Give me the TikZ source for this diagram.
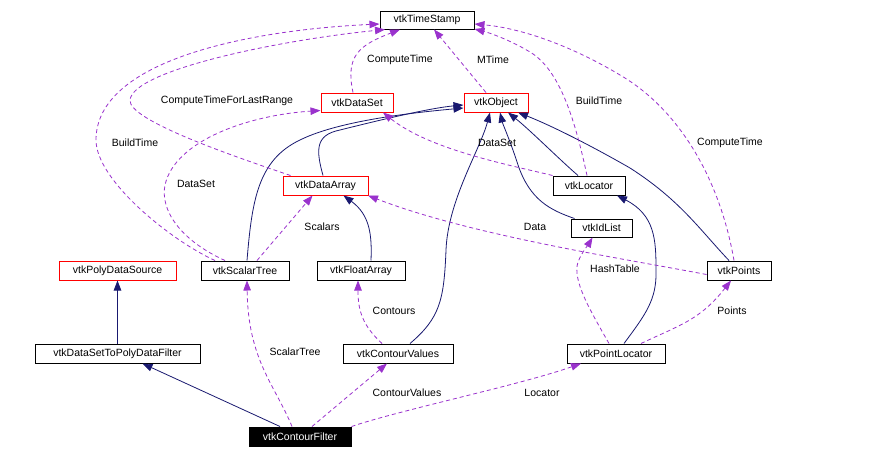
\documentclass[tikz,border=0pt]{standalone}
\usepackage{fontspec}
\setmainfont{Liberation Sans}
\usetikzlibrary{arrows.meta}
\definecolor{inhcol}{HTML}{191970}
\definecolor{usecol}{HTML}{9A32CD}
\begin{document}
\begin{tikzpicture}[x=1pt,y=-1pt,
  cls/.style={draw=black, line width=1pt, minimum height=19pt, inner sep=0pt, font=\fontsize{10.5}{12}\selectfont, fill=white},
  redbox/.style={cls, draw=red},
  lbl/.style={font=\fontsize{10.5}{12}\selectfont, inner sep=0pt},
  inhe/.style={draw=inhcol, line width=0.8pt, -{Triangle[length=10pt,width=7.5pt]}},
  usee/.style={draw=usecol, line width=0.8pt, dash pattern=on 4pt off 3pt, -{Triangle[length=10pt,width=7.5pt]}}
]
\useasboundingbox (0,0) rectangle (874,458);
\fill[white] (0,0) rectangle (874,458);

\node[cls, minimum width=94pt, minimum height=18pt] (ts) at (427,20) {vtkTimeStamp};
\node[redbox, minimum width=72pt] (ds) at (357,102.5) {vtkDataSet};
\node[redbox, minimum width=64pt] (obj) at (496,102.5) {vtkObject};
\node[redbox, minimum width=85pt] (da) at (325.5,185.5) {vtkDataArray};
\node[cls, minimum width=72pt] (loc) at (589,185.5) {vtkLocator};
\node[cls, minimum width=61pt, minimum height=18pt] (idl) at (601.5,228) {vtkIdList};
\node[redbox, minimum width=117pt] (pds) at (117.5,270.5) {vtkPolyDataSource};
\node[cls, minimum width=88pt] (st) at (245,270.5) {vtkScalarTree};
\node[cls, minimum width=88pt] (fa) at (361,270.5) {vtkFloatArray};
\node[cls, minimum width=64pt] (pts) at (739,270.5) {vtkPoints};
\node[cls, minimum width=165pt] (dsf) at (117.5,353.5) {vtkDataSetToPolyDataFilter};
\node[cls, minimum width=110pt] (cv) at (398,353.5) {vtkContourValues};
\node[cls, minimum width=98pt] (pl) at (616,353.5) {vtkPointLocator};
\node[cls, fill=black, text=white, minimum width=102pt] (cf) at (300,436.5) {vtkContourFilter};

% inheritance
\draw[inhe] (dsf.north) -- (pds.south);
\draw[inhe] ([xshift=-20pt]cf.north) -- ([xshift=25pt]dsf.south);
\draw[inhe] ([xshift=2pt]st.north) .. controls (252,200) and (258,160) .. (300,140) .. controls (340,120) and (420,112) .. ([yshift=-5.5pt]obj.west);
\draw[inhe] ([xshift=-2.5pt]da.north) .. controls (316,150) and (315,135) .. (340,130) .. controls (380,120) and (430,108) .. ([yshift=-2.5pt]obj.west);
\draw[inhe] ([xshift=10pt]fa.north) .. controls (372,235) and (370,215) .. ([xshift=18pt]da.south);
\draw[inhe] ([xshift=12pt]cv.north) .. controls (440,318) and (444,300) .. (446,250) .. controls (448,200) and (480,150) .. ([xshift=-6pt]obj.south);
\draw[inhe] ([xshift=-27pt]idl.north) .. controls (550,210) and (530,200) .. (518,165) .. controls (510,140) and (503,125) .. ([xshift=4pt]obj.south);
\draw[inhe] ([xshift=-11pt]loc.north) .. controls (560,160) and (530,130) .. ([xshift=12pt]obj.south);
\draw[inhe] ([xshift=-10pt]pts.north) .. controls (700,230) and (680,200) .. (630,168) .. controls (590,145) and (550,125) .. ([xshift=22pt]obj.south);
\draw[inhe] ([xshift=8pt]pl.north) .. controls (645,315) and (657,300) .. (656,270) .. controls (656,240) and (655,215) .. ([xshift=28pt]loc.south);

% usage
\draw[usee] ([xshift=-4pt]ds.north) .. controls (345,55) and (360,45) .. ([xshift=-27pt]ts.south);
\draw[usee] ([xshift=-10pt]obj.north) -- ([xshift=7pt]ts.south);
\draw[usee] ([xshift=-2pt]loc.north) .. controls (575,120) and (560,70) .. (530,52) .. controls (510,40) and (490,33) .. ([yshift=-9pt]ts.east);
\draw[usee] ([xshift=-5pt]pts.north) .. controls (720,180) and (680,110) .. (620,75) .. controls (570,45) and (520,28) .. ([yshift=-4pt]ts.east);
\draw[usee] ([xshift=-35pt]da.north) .. controls (230,155) and (128,120) .. (130,100) .. controls (133,70) and (280,40) .. ([xshift=-42pt]ts.south);
\draw[usee] ([xshift=-30pt]st.north) .. controls (170,240) and (96,180) .. (96,140) .. controls (96,60) and (250,30) .. ([yshift=-4pt]ts.west);
\draw[usee] ([xshift=-20pt]st.north) .. controls (180,240) and (160,210) .. (165,185) .. controls (175,140) and (250,115) .. ([yshift=-8pt]ds.west);
\draw[usee] ([yshift=-4pt]pts.west) .. controls (620,258) and (470,235) .. ([xshift=42.5pt]da.south);
\draw[usee] (loc.north west) .. controls (510,165) and (430,150) .. ([xshift=26pt]ds.south);
\draw[usee] ([xshift=12pt]st.north) -- ([xshift=-13pt]da.south);
\draw[usee] ([xshift=-16pt]cv.north) .. controls (362,325) and (358,310) .. ([xshift=-3pt]fa.south);
\draw[usee] ([xshift=-7pt]pl.north) .. controls (590,310) and (572,280) .. (578,262) .. controls (582,252) and (588,245) .. ([xshift=-9pt]idl.south);
\draw[usee] ([xshift=25pt]pl.north) .. controls (680,325) and (700,320) .. ([xshift=-8pt]pts.south);
\draw[usee] ([xshift=-8pt]cf.north) .. controls (275,385) and (248,360) .. ([xshift=2pt]st.south);
\draw[usee] ([xshift=12pt]cf.north) -- ([xshift=-11pt]cv.south);
\draw[usee] (cf.north east) .. controls (400,410) and (520,385) .. ([xshift=-35pt]pl.south);

% labels
\node[lbl] (l1) at (400,60) {ComputeTime};
\node[lbl] (l2) at (493,60) {MTime};
\node[lbl] (l3) at (227,101) {ComputeTimeForLastRange};
\node[lbl] (l4) at (599,101) {BuildTime};
\node[lbl] (l5) at (135,143) {BuildTime};
\node[lbl] (l6) at (497,143) {DataSet};
\node[lbl] (l7) at (730,143) {ComputeTime};
\node[lbl] (l8) at (196,184) {DataSet};
\node[lbl] (l9) at (322,227) {Scalars};
\node[lbl] (l10) at (535,227) {Data};
\node[lbl] (l11) at (615,269) {HashTable};
\node[lbl] (l12) at (394,311) {Contours};
\node[lbl] (l13) at (732,311) {Points};
\node[lbl] (l14) at (295,352) {ScalarTree};
\node[lbl] (l15) at (407,393) {ContourValues};
\node[lbl] (l16) at (542,393) {Locator};
\end{tikzpicture}
\end{document}
